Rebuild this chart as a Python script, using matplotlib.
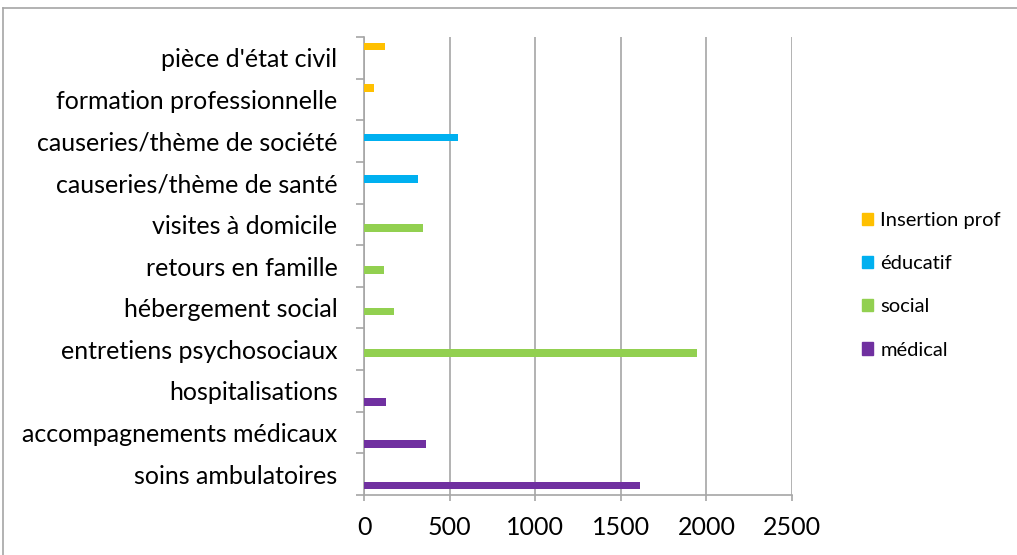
import numpy as np
import matplotlib
matplotlib.use("Agg")
import matplotlib.pyplot as plt
from matplotlib.lines import Line2D
from matplotlib.patches import Patch

plt.rcParams['font.family'] = ['Lato', 'DejaVu Sans']

categories = [
    "soins ambulatoires", "accompagnements médicaux", "hospitalisations",
    "entretiens psychosociaux", "hébergement social", "retours en famille",
    "visites à domicile", "causeries/thème de santé", "causeries/thème de société",
    "formation professionnelle", "pièce d'état civil",
]
series_names = ["médical", "social", "éducatif", "Insertion prof"]
medical = [1615, 365, 130, 0, 0, 0, 0, 0, 0, 0, 0]
social = [0, 0, 0, 1945, 173, 117, 345, 0, 0, 0, 0]
educatif = [0, 0, 0, 0, 0, 0, 0, 313, 549, 0, 0]
insertion = [0, 0, 0, 0, 0, 0, 0, 0, 0, 60, 122]
colors = ["#7030A0", "#92D050", "#00B0F0", "#FFC000"]

W, H = 1017, 555
fig = plt.figure(figsize=(W / 100, H / 100), dpi=100)
ax = fig.add_axes([364 / W, 1 - 495 / H, (792 - 364) / W, (495 - 37) / H])

y = np.arange(len(categories))
h = 1 / 5.5
for i, vals in enumerate([medical, social, educatif, insertion]):
    ax.barh(y + (i - 1.5) * h, vals, height=h, color=colors[i], label=series_names[i], zorder=3)

ax.set_xlim(0, 2500)
ax.set_ylim(-0.5, len(categories) - 0.5)
ax.set_xticks(np.arange(0, 2501, 500))
ax.set_yticks(y)
ax.set_yticklabels(categories)
ax.set_yticks(np.arange(-0.5, len(categories), 1), minor=True)
ax.tick_params(axis='y', which='major', length=0, pad=19, labelsize=18)
ax.tick_params(axis='y', which='minor', length=6, color='#A6A6A6', width=1.2)
ax.tick_params(axis='x', length=4, color='#A6A6A6', width=1.2, pad=11, labelsize=18)
ax.grid(axis='x', color='#A6A6A6', linewidth=1.2, zorder=0)
for s in ['top', 'right']:
    ax.spines[s].set_visible(False)
for s in ['left', 'bottom']:
    ax.spines[s].set_color('#A6A6A6')
    ax.spines[s].set_linewidth(1.2)

handles = [Patch(color=colors[i], label=series_names[i]) for i in range(3, -1, -1)]
fig.legend(handles=handles, loc='upper left', bbox_to_anchor=(844 / W, 1 - 194 / H),
           frameon=False, fontsize=14.5, handlelength=0.55, handleheight=0.55,
           handletextpad=0.35, labelspacing=1.3)

# outer chart border
fig.add_artist(Line2D([3 / W, 1], [1 - 8 / H, 1 - 8 / H], color='#A6A6A6', linewidth=1.2))
fig.add_artist(Line2D([3 / W, 3 / W], [0, 1 - 8 / H], color='#A6A6A6', linewidth=1.2))

fig.savefig("out.png", dpi=100)
